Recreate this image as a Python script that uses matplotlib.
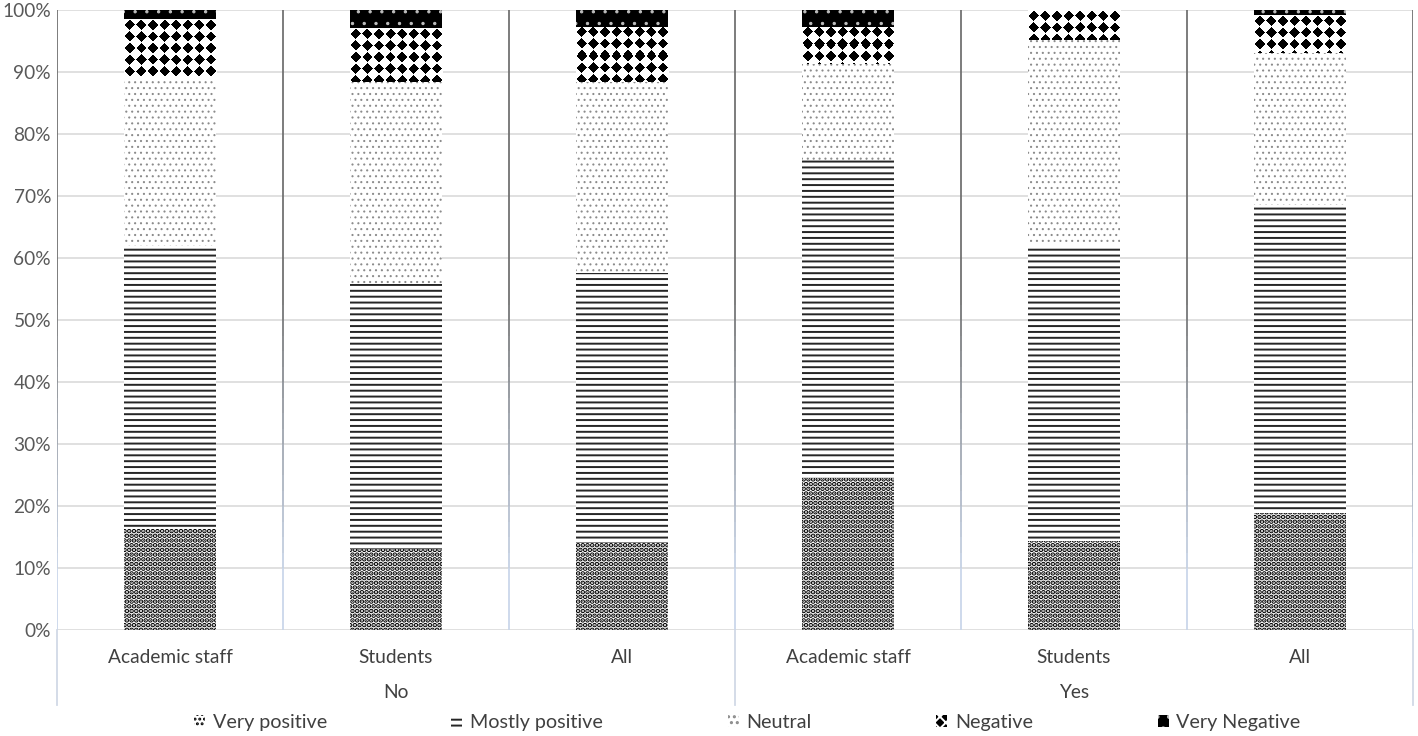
import numpy as np
import matplotlib as mpl
import matplotlib.pyplot as plt
from matplotlib.collections import LineCollection

#   Data (percent of respondents)
groups = ["No", "Yes"]
categories = ["Academic staff", "Students", "All", "Academic staff", "Students", "All"]
levels = ["Very positive", "Mostly positive", "Neutral", "Negative", "Very Negative"]

very_positive   = [16.3, 13.1, 14.0, 24.5, 14.4, 18.9]
mostly_positive = [45.6, 42.7, 43.6, 51.3, 47.7, 49.6]
neutral         = [27.1, 32.6, 30.8, 15.5, 33.1, 24.6]
negative        = [9.5, 8.7, 8.9, 6.0, 4.8, 6.1]
very_negative   = [1.5, 2.9, 2.7, 2.7, 0.0, 0.8]

series = [very_positive, mostly_positive, neutral, negative, very_negative]

#   Fill patterns (black & white, Excel-like)
styles = [
    dict(facecolor="white", edgecolor="black",   hatch=".....", hlw=1.7),
    dict(facecolor="white", edgecolor="#262626", hatch="----",  hlw=1.0),
    dict(facecolor="white", edgecolor="#8c8c8c", hatch="....",  hlw=0.5),
    dict(facecolor="black", edgecolor="white",   hatch="xxxx",  hlw=1.0),
    dict(facecolor="black", edgecolor="#bfbfbf", hatch="..",    hlw=0.5),
]


def diamond_tile(w, h, p=11.6, r=0.46):
    # checkerboard of black diamonds on white, in pixel units
    U, V = np.meshgrid(np.arange(w) + 0.5, np.arange(h) + 0.5)
    du = np.abs((U % p) - p / 2)
    dv = np.abs((V % p) - p / 2)
    return np.where(du + dv < r * p, 0.0, 1.0)


plt.rcParams["font.family"] = ["Lato", "DejaVu Sans"]
DPI = 141.8
fig = plt.figure(figsize=(1418 / DPI, 736 / DPI), dpi=DPI)
ax = fig.add_axes([57 / 1418, 1 - 630 / 736, 1356 / 1418, 620 / 736])

x = np.arange(len(categories))
bottom = np.zeros(len(categories))
containers = []
for vals, st, name in zip(series, styles, levels):
    with mpl.rc_context({"hatch.linewidth": st["hlw"]}):
        bars = ax.bar(x, vals, width=0.41, bottom=bottom, facecolor=st["facecolor"],
                      edgecolor=st["edgecolor"], hatch=st["hatch"], linewidth=0,
                      label=name, zorder=3)
        for p in bars:
            if hasattr(p, "set_hatch_linewidth"):
                p.set_hatch_linewidth(st["hlw"])
    containers.append(bars)
    bottom += np.array(vals)

ax.set_xlim(-0.5, len(categories) - 0.5)
ax.set_ylim(0, 100)

#   Diamond fill for "Negative" segments
for p in containers[3]:
    x0, y0, w, h = p.get_x(), p.get_y(), p.get_width(), p.get_height()
    if h <= 0:
        continue
    (px0, py0), (px1, py1) = ax.transData.transform([(x0, y0), (x0 + w, y0 + h)])
    img = diamond_tile(int(round(px1 - px0)), int(round(py1 - py0)))
    im = ax.imshow(img, extent=(x0, x0 + w, y0, y0 + h), origin="upper", cmap="gray",
                   vmin=0, vmax=1, interpolation="nearest", aspect="auto", zorder=4)
    im.set_clip_path(p)

ax.set_xlim(-0.5, len(categories) - 0.5)
ax.set_ylim(0, 100)
ax.set_yticks(np.arange(0, 101, 10))
ax.set_yticklabels([f"{v}%" for v in range(0, 101, 10)], fontsize=9.7, color="#595959")
ax.yaxis.grid(True, color="#d9d9d9", linewidth=0.8, zorder=0)
ax.tick_params(axis="y", length=0, pad=3)
for s in ax.spines.values():
    s.set_visible(False)

#   Category labels
ax.set_xticks(x)
ax.set_xticklabels(categories, fontsize=9.7, color="#404040")
ax.tick_params(axis="x", length=0, pad=9.5)

#   Vertical separators (dark at top, fading to light blue near the base)
xt = ax.get_xaxis_transform()
dark = np.array(mpl.colors.to_rgb("#6f6f6f"))
light = np.array(mpl.colors.to_rgb("#c9d6ea"))
ys = np.linspace(1.0, 0.0, 41)
for b in np.arange(-0.5, len(categories), 1.0):
    segs = [[(b, ys[i]), (b, ys[i + 1])] for i in range(len(ys) - 1)]
    t = np.clip((0.55 - ys[:-1]) / 0.45, 0, 1)
    cols = [dark * (1 - k) + light * k for k in t]
    lc = LineCollection(segs, colors=cols, linewidths=0.9, transform=xt, zorder=2)
    ax.add_collection(lc)
for b in [-0.5, 2.5, 5.5]:
    ax.plot([b, b], [0.0, -0.121], transform=xt, color="#d0d8e6", linewidth=0.9, clip_on=False)

#   Group labels
for i, g in enumerate(groups):
    ax.text(1 + 3 * i, -0.1, g, transform=xt, ha="center", va="center",
            fontsize=9.7, color="#404040")

fig.legend(loc="center", bbox_to_anchor=(0.527, 0.018), ncol=5, frameon=False,
           fontsize=10, labelcolor="#404040", handlelength=0.55, handleheight=0.55,
           handletextpad=0.4, columnspacing=6.33)

fig.savefig("out.png", dpi=DPI)
